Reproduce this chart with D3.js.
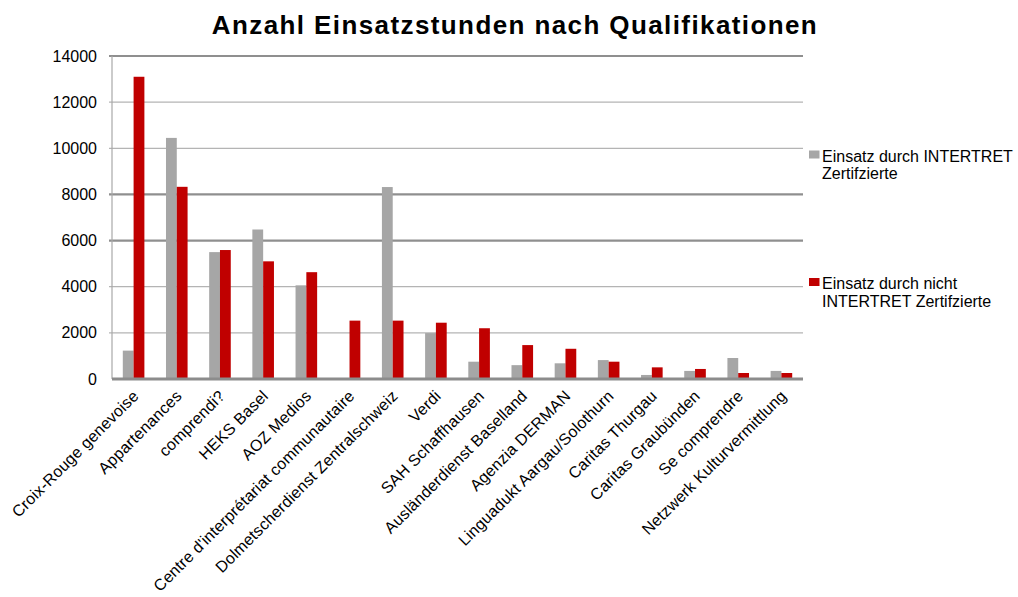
<!DOCTYPE html>
<html>
<head>
<meta charset="utf-8">
<script src="https://cdn.jsdelivr.net/npm/d3@7"></script>
<style>
  body { margin: 0; background: #fff; }
  svg { display: block; font-family: "Liberation Sans", Arial, sans-serif; }
</style>
</head>
<body>
<svg id="chart" width="1018" height="597"></svg>
<script>
const categories = [
  "Croix-Rouge genevoise", "Appartenances", "comprendi?", "HEKS Basel", "AOZ Medios",
  "Centre d'interprétariat communautaire", "Dolmetscherdienst Zentralschweiz", "Verdi",
  "SAH Schaffhausen", "Ausländerdienst Baselland", "Agenzia DERMAN",
  "Linguadukt Aargau/Solothurn", "Caritas Thurgau", "Caritas Graubünden",
  "Se comprendre", "Netzwerk Kulturvermittlung"
];
const seriesNames = ["Einsatz durch INTERTRET Zertifzierte", "Einsatz durch nicht INTERTRET Zertifzierte"];
const certified    = [1230, 10450, 5500, 6480, 4060, 0, 8320, 1990, 750, 600, 680, 820, 175, 350, 910, 350];
const notCertified = [13100, 8330, 5590, 5100, 4630, 2530, 2530, 2440, 2200, 1470, 1310, 750, 505, 435, 260, 260];
const yTicks = [0, 2000, 4000, 6000, 8000, 10000, 12000, 14000];
const strongTicks = [6000, 8000, 14000];
const colors = ["#A6A6A6", "#C00000"];

const svg = d3.select("#chart");
const L = 112, R = 803, T = 56, B = 379;

const x0 = d3.scaleBand().domain(categories).range([L, R]).paddingInner(0).paddingOuter(0);
const bw = x0.bandwidth();
const x1 = d3.scaleBand().domain([0, 1]).range([bw * 0.25, bw * 0.75]).padding(0);
const y = d3.scaleLinear().domain([0, 14000]).range([B, T]);

// gridlines
svg.append("g").selectAll("line").data(yTicks.filter(d => d > 0)).join("line")
  .attr("x1", L - 3).attr("x2", R)
  .attr("y1", d => y(d)).attr("y2", d => y(d))
  .attr("stroke", d => strongTicks.includes(d) ? "#8f8f8f" : "#b4b4b4")
  .attr("stroke-width", d => strongTicks.includes(d) ? 2.2 : 1.2);

// y axis line
svg.append("line").attr("x1", L).attr("x2", L).attr("y1", T).attr("y2", B)
  .attr("stroke", "#a8a8a8").attr("stroke-width", 1.2);

// y labels
const yAxis = d3.axisLeft(y).tickValues(yTicks).tickFormat(d3.format("d")).tickSize(0).tickPadding(15);
const ya = svg.append("g").attr("transform", `translate(${L},0)`).call(yAxis);
ya.select(".domain").remove();
ya.selectAll("text").attr("font-size", 16).attr("fill", "#000")
  .attr("font-family", "'Liberation Sans', Arial, sans-serif");

// bars
const rows = categories.map((c, i) => ({ c, vals: [certified[i], notCertified[i]] }));
const groups = svg.append("g").selectAll("g").data(rows).join("g")
  .attr("transform", d => `translate(${x0(d.c)},0)`);
groups.selectAll("rect").data(d => d.vals.map((v, s) => ({ v, s }))).join("rect")
  .attr("x", d => x1(d.s)).attr("width", x1.bandwidth())
  .attr("y", d => y(d.v)).attr("height", d => y(0) - y(d.v))
  .attr("fill", d => colors[d.s]);

// x axis line
svg.append("line").attr("x1", L).attr("x2", R).attr("y1", B).attr("y2", B)
  .attr("stroke", "#8c8c8c").attr("stroke-width", 3);

// x labels
const xa = svg.append("g").attr("transform", `translate(0,${B})`)
  .call(d3.axisBottom(x0).tickSize(0).tickPadding(0));
xa.select(".domain").remove();
xa.selectAll("text")
  .attr("font-size", 16).attr("fill", "#000")
  .attr("font-family", "'Liberation Sans', Arial, sans-serif")
  .attr("letter-spacing", 0.2)
  .attr("text-anchor", "end")
  .attr("dy", 0).attr("y", 0)
  .attr("transform", "translate(6,18) rotate(-45)");

// title
svg.append("text").attr("x", 515).attr("y", 34).attr("text-anchor", "middle")
  .attr("font-size", 26).attr("font-weight", "bold").attr("fill", "#000")
  .attr("letter-spacing", 1.4)
  .text("Anzahl Einsatzstunden nach Qualifikationen");

// legend
const legend = [
  { lines: ["Einsatz durch INTERTRET", "Zertifzierte"], y: 150.5 },
  { lines: ["Einsatz durch nicht", "INTERTRET Zertifzierte"], y: 278 }
];
const lg = svg.append("g").selectAll("g").data(legend).join("g")
  .attr("transform", d => `translate(809,${d.y})`);
lg.append("rect").attr("width", 10.5).attr("height", 8).attr("fill", (d, i) => colors[i]);
lg.append("text").attr("x", 13).attr("y", 11).attr("font-size", 16).attr("fill", "#000")
  .selectAll("tspan").data(d => d.lines).join("tspan")
  .attr("x", 13).attr("dy", (d, i) => i === 0 ? 0 : 17.5).text(d => d);
</script>
</body>
</html>
